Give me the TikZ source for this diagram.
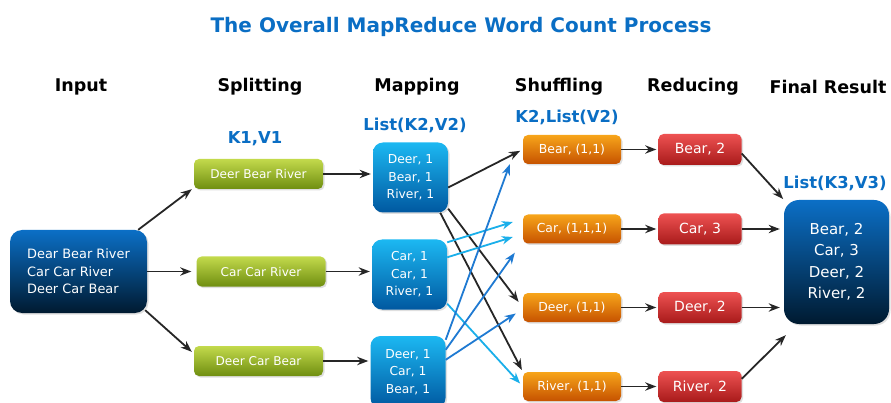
\documentclass[tikz,border=0pt]{standalone}
\usepackage{fontspec}
\setmainfont{DejaVu Sans}
\usetikzlibrary{positioning,arrows.meta,shadows}

\definecolor{titleblue}{HTML}{0A6EC4}
\definecolor{navytop}{HTML}{0B6FC6}
\definecolor{navybot}{HTML}{001A30}
\definecolor{greentop}{HTML}{C3DA4C}
\definecolor{greenbot}{HTML}{6F8E10}
\definecolor{cyantop}{HTML}{1CB8F2}
\definecolor{cyanbot}{HTML}{0058A0}
\definecolor{orangetop}{HTML}{F7A51A}
\definecolor{orangebot}{HTML}{C65200}
\definecolor{redtop}{HTML}{EE5252}
\definecolor{redbot}{HTML}{A81A1A}
\definecolor{lineblue}{HTML}{1AAFEA}
\definecolor{midblue}{HTML}{1F7AD2}

\begin{document}
\begin{tikzpicture}[x=1pt, y=-1pt, >=Stealth,
  head/.style={font=\fontsize{17.5}{20}\selectfont\bfseries},
  kv/.style={font=\fontsize{16.4}{19}\selectfont\bfseries, text=titleblue},
  box/.style={rounded corners=5pt, text=white, inner sep=2pt, align=center,
    drop shadow={opacity=0.25, shadow xshift=1.5pt, shadow yshift=-1.5pt}},
  inbox/.style={box, top color=navytop, bottom color=navybot, rounded corners=12pt,
    minimum width=137pt, minimum height=83pt, font=\fontsize{12.9}{17.5}\selectfont},
  splitbox/.style={box, top color=greentop, bottom color=greenbot,
    minimum width=129pt, minimum height=30pt, font=\fontsize{12.1}{14}\selectfont},
  mapbox/.style={box, top color=cyantop, bottom color=cyanbot, rounded corners=10pt,
    minimum width=75pt, minimum height=70pt, font=\fontsize{12.3}{17.5}\selectfont},
  shufbox/.style={box, top color=orangetop, bottom color=orangebot,
    minimum width=98pt, minimum height=29pt, font=\fontsize{12.4}{14}\selectfont},
  redbox/.style={box, top color=redtop, bottom color=redbot,
    minimum width=83pt, minimum height=31pt, font=\fontsize{14}{16}\selectfont},
  finbox/.style={box, top color=navytop, bottom color=navybot, rounded corners=15pt,
    minimum width=105pt, minimum height=124pt, font=\fontsize{15}{21.5}\selectfont},
  arr/.style={->, line width=1.8pt, draw=black!85},
  arrlight/.style={->, line width=1.8pt, draw=lineblue},
  arrmid/.style={->, line width=1.8pt, draw=midblue},
]
  \path[use as bounding box, fill=white] (0,0) rectangle (891,403);

  % title and column heads
  \node[font=\fontsize{20}{24}\selectfont\bfseries, text=titleblue] (title) at (461,27) {The Overall MapReduce Word Count Process};
  \foreach \x/\h [count=\i] in {81/Input, 260/Splitting, 417/Mapping, 559/Shuffling, 693/Reducing, 828/Final Result}
    \node[head] (h\i) at (\x,87) {\h};

  \node[kv] (kv1) at (255,139) {K1,V1};
  \node[kv] (kv2) at (415,125) {List(K2,V2)};
  \node[kv] (kv3) at (567,117) {K2,List(V2)};
  \node[kv] (kv4) at (835,183) {List(K3,V3)};

  % input and splits
  \node[inbox, align=left] (in) at (78.5,271.5) {Dear Bear River\\Car Car River\\Deer Car Bear};
  \node[splitbox] (s1) at (258.5,174) {Deer Bear River};
  \node[splitbox] (s2) at (261,271.5) {Car Car River};
  \node[splitbox] (s3) at (258.5,361) {Deer Car Bear};

  % mapping
  \node[mapbox] (m1) at (410.5,177.5) {Deer, 1\\Bear, 1\\River, 1};
  \node[mapbox] (m2) at (409.5,274.5) {Car, 1\\Car, 1\\River, 1};
  \node[mapbox, minimum height=72pt] (m3) at (408,372) {Deer, 1\\Car, 1\\Bear, 1};

  % shuffling and reducing
  \foreach \w/\v/\n/\y [count=\i] in {Bear/{(1,1)}/2/149.5, Car/{(1,1,1)}/3/229, Deer/{(1,1)}/2/307.5, River/{(1,1)}/2/386.5} {
    \node[shufbox] (sh\i) at (572,\y) {\w, \v};
    \node[redbox] (r\i) at (700,\y) {\w, \n};
    \draw[arr, shorten >=2pt] (sh\i.east) -- (sh\i.east -| r\i.west);
  }

  \node[finbox] (fin) at (836.5,262) {Bear, 2\\Car, 3\\Deer, 2\\River, 2};

  % connectors
  \draw[arr] ([xshift=-9pt]in.north east) -- ([xshift=-2pt]s1.south west);
  \draw[arr, shorten >=5pt] (in.east) -- (s2.west);
  \draw[arr] ([xshift=-2pt,yshift=3pt]in.south east) -- ([xshift=-2pt,yshift=-6pt]s3.north west);
  \draw[arr, shorten >=2pt] (s1.east) -- (s1.east -| m1.west);
  \draw[arr, shorten >=2pt] (s2.east) -- (s2.east -| m2.west);
  \draw[arr, shorten >=2pt] (s3.east) -- (s3.east -| m3.west);

  \draw[arr, shorten >=3pt] ([yshift=-10pt]m1.east) -- (sh1.west);
  \draw[arr, shorten >=7pt] ([yshift=4pt]m1.south east) -- (sh3.west);
  \draw[arr, shorten >=2pt] ([xshift=-8pt]m1.south east) -- (sh4.north west);

  \draw[arrlight] ([yshift=-3pt]m2.north east) -- ([xshift=-10pt,yshift=7pt]sh2.west);
  \draw[arrlight] ([yshift=-18pt]m2.north east) -- ([xshift=-10pt,yshift=-8pt]sh2.west);
  \draw[arrlight, shorten >=4pt] ([yshift=6pt]m2.south east) -- (sh4.west);

  \draw[arrmid] ([yshift=-4pt]m3.north east) -- ([xshift=-13pt]sh1.south west);
  \draw[arrmid] ([yshift=-14pt]m3.north east) -- ([xshift=-8pt,yshift=-9pt]sh2.south west);
  \draw[arrmid] ([yshift=-24pt]m3.north east) -- ([xshift=-7pt,yshift=-6pt]sh3.west);

  \draw[arr, shorten >=1pt] ([yshift=-4pt]r1.east) -- (fin.north west);
  \draw[arr, shorten >=4pt] (r2.east) -- (r2.east -| fin.west);
  \draw[arr, shorten >=4pt] (r3.east) -- (r3.east -| fin.west);
  \draw[arr] ([yshift=-8pt]r4.north east) -- ([xshift=2pt,yshift=-11pt]fin.south west);
\end{tikzpicture}
\end{document}
